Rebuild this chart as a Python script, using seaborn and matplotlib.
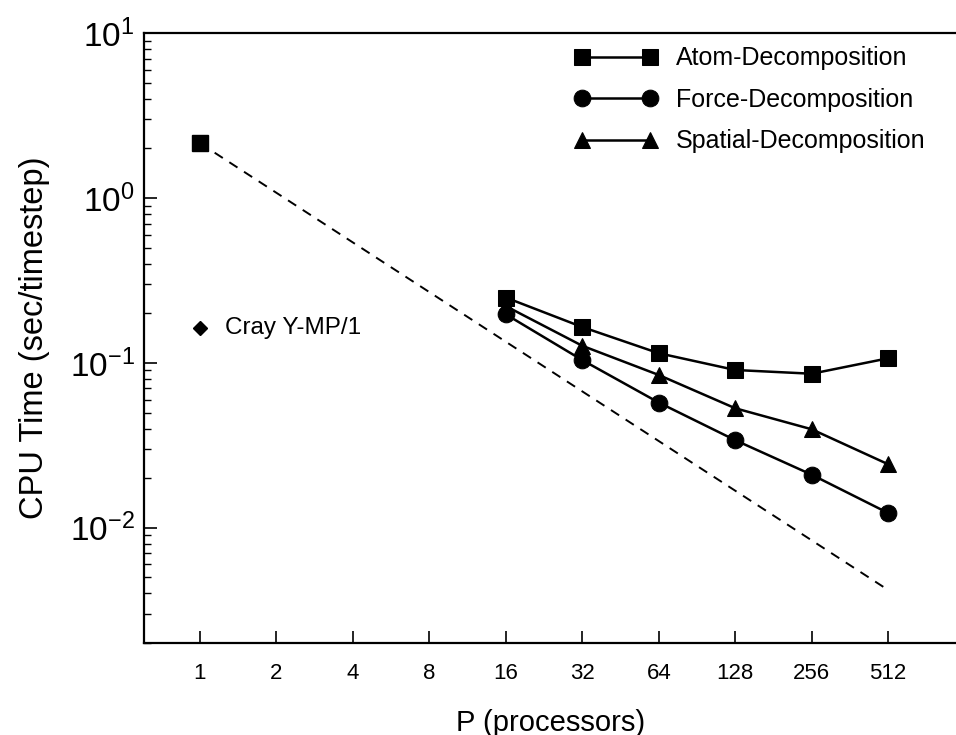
import numpy as np
import pandas as pd
import matplotlib
matplotlib.use("Agg")
import matplotlib.pyplot as plt
import seaborn as sns

# ---------------------------------------------------------------
# Dados
# ---------------------------------------------------------------
procs = [16, 32, 64, 128, 256, 512]
atom = [0.249, 0.165, 0.1145, 0.0906, 0.086, 0.1067]
force = [0.197, 0.104, 0.0575, 0.034, 0.021, 0.0123]
spatial = [0.221, 0.127, 0.0845, 0.0531, 0.0396, 0.0243]
series_names = ["Atom-Decomposition", "Force-Decomposition", "Spatial-Decomposition"]

one_proc_time = 2.15      # ponto com 1 processador
cray_time = 0.163         # Cray Y-MP/1
ideal_procs = [1, 512]

xtick_vals = [1, 2, 4, 8, 16, 32, 64, 128, 256, 512]

# tabela longa para o seaborn
df = pd.DataFrame({
    "P": procs * 3,
    "time": atom + force + spatial,
    "method": [series_names[0]] * 6 + [series_names[1]] * 6 + [series_names[2]] * 6,
})

sns.set_theme(style="ticks")
plt.rcParams["font.family"] = ["Liberation Sans", "DejaVu Sans"]
plt.rcParams["mathtext.fontset"] = "custom"
plt.rcParams["mathtext.rm"] = "Liberation Sans"
plt.rcParams["mathtext.it"] = "Liberation Sans"
# tudo em preto
for k in ["text.color", "axes.labelcolor", "xtick.color", "ytick.color"]:
    plt.rcParams[k] = "black"

fig = plt.figure(figsize=(9.56, 7.35), dpi=100)
ax = fig.add_axes([0.151, 0.125, 0.849, 0.830])

# linha ideal (tracejada)
ideal_t = [one_proc_time / p for p in ideal_procs]
ax.plot(ideal_procs, ideal_t, color="black", ls=(0, (5, 4)), lw=1.4, zorder=1)

sns.lineplot(data=df, x="P", y="time", hue="method", style="method",
             palette=["black"] * 3, markers=["s", "o", "^"], dashes=False,
             markersize=12, linewidth=1.8, markeredgecolor="black", ax=ax, zorder=3)

# ponto de 1 processador e Cray
ax.plot([1], [one_proc_time], marker="s", color="black", markersize=12, zorder=4)
ax.plot([1], [cray_time], marker="D", color="black", markersize=7, zorder=4)
ax.text(1.25, cray_time, "Cray Y-MP/1", fontsize=17.5, va="center", ha="left")

ax.set_xscale("log", base=2)
ax.set_yscale("log")
ax.set_xlim(0.604, 947)
ax.set_ylim(0.002, 10)
ax.set_xticks(xtick_vals)
ax.set_xticklabels([str(v) for v in xtick_vals])
ax.xaxis.set_minor_locator(matplotlib.ticker.NullLocator())

ax.tick_params(axis="x", which="major", direction="in", length=9, width=1.2,
               labelsize=16, pad=14)
ax.tick_params(axis="y", which="major", direction="in", length=9, width=1.2,
               labelsize=24, pad=7)
ax.tick_params(axis="y", which="minor", direction="in", length=5, width=1.0)
ax.tick_params(right=False, top=False)

ax.spines["right"].set_visible(False)
for s in ["left", "bottom", "top"]:
    ax.spines[s].set_linewidth(1.6)
    ax.spines[s].set_color("black")

ax.set_xlabel("P (processors)", fontsize=21, labelpad=18)
ax.set_ylabel("CPU Time (sec/timestep)", fontsize=23.5, labelpad=14)

handles, labels = ax.get_legend_handles_labels()
for h in handles:
    h.set_markersize(12)
ax.legend(handles, labels, loc="upper right", bbox_to_anchor=(0.99, 1.015),
          frameon=False, numpoints=2, fontsize=18, handlelength=3.3,
          handletextpad=0.75, labelspacing=0.7)

fig.savefig("out.png", dpi=100)
